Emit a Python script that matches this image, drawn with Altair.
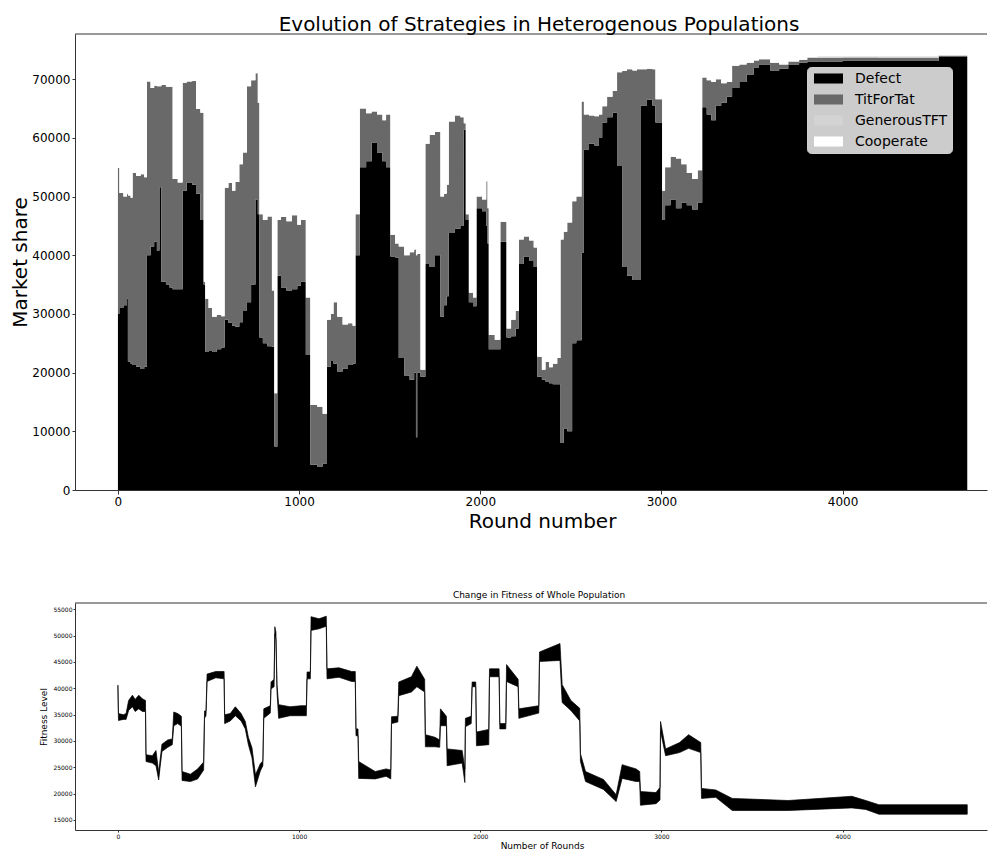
import altair as alt
import pandas as pd

# ---------------- data: stacked strategy shares (top panel) ----------------
TOTAL_POPULATION = 74000
strategies = ["Defect", "TitForTat", "GenerousTFT", "Cooperate"]
strategy_colors = ["#000000", "#696969", "#d3d3d3", "#ffffff"]

rounds_top = [0, 8, 30, 50, 55, 70, 81, 100, 125, 145, 160, 180, 200, 215, 229, 240, 265, 285,
              302, 330, 357, 380, 410, 431, 455, 473, 482, 500, 520, 545, 570, 589, 610, 630,
              648, 670, 690, 712, 735, 759, 772, 781, 800, 825, 850, 863, 880, 900, 930, 960,
              990, 1010, 1037, 1062, 1100, 1130, 1154, 1175, 1190, 1210, 1240, 1270, 1295, 1311,
              1335, 1370, 1400, 1430, 1460, 1480, 1504, 1530, 1550, 1580, 1610, 1635, 1645, 1652,
              1670, 1697, 1720, 1750, 1780, 1800, 1815, 1826, 1860, 1890, 1909, 1920, 1937, 1960,
              1979, 2010, 2033, 2040, 2047, 2080, 2111, 2145, 2170, 2195, 2213, 2240, 2270, 2295,
              2314, 2340, 2360, 2380, 2400, 2425, 2443, 2460, 2480, 2507, 2530, 2559, 2572, 2600,
              2630, 2655, 2673, 2700, 2730, 2755, 2783, 2810, 2840, 2865, 2884, 2920, 2950, 2967,
              3004, 3020, 3050, 3080, 3110, 3140, 3170, 3200, 3225, 3250, 3275, 3300, 3330, 3360,
              3390, 3430, 3470, 3510, 3538, 3600, 3650, 3700, 3760, 3805, 3860, 4000, 4200, 4530,
              4688]
defect = [30000, 31000, 31500, 32600, 21900, 21500, 21300, 21000, 20600, 21000, 40000, 41500,
          42300, 40800, 51600, 35500, 35000, 34500, 34200, 34200, 51000, 52400, 52000, 50500,
          46000, 35000, 23500, 23700, 23500, 24000, 24300, 29000, 28500, 28000, 27800, 28600,
          30500, 32000, 35000, 49500, 47000, 26000, 25000, 24500, 24400, 7400, 36500, 34500,
          34000, 34200, 34800, 35500, 23000, 4300, 4000, 4500, 21000, 22000, 21500, 20200, 20700,
          21300, 21500, 40000, 55000, 56000, 59200, 57500, 56000, 55000, 39800, 39600, 22500,
          19500, 18800, 20000, 9000, 20000, 19300, 38500, 38000, 40000, 29500, 31500, 33000,
          43800, 44500, 45000, 61400, 46000, 32000, 31300, 48000, 47500, 45000, 42000, 24000,
          24000, 42300, 26000, 26200, 27500, 38500, 39800, 39000, 38000, 19300, 18800, 18500,
          18200, 18000, 18000, 8000, 10500, 10000, 25000, 25500, 40400, 58000, 59000, 58700,
          60000, 62600, 63500, 64300, 55200, 38000, 36500, 35800, 35800, 65500, 66500, 65500,
          62600, 46000, 48500, 49500, 48000, 49000, 48500, 47800, 49000, 65200, 64000, 63000,
          65500, 66000, 67000, 68500, 69500, 70800, 72000, 72500, 71500, 71800, 72500, 72800,
          73000, 73000, 73200, 73100, 73800, 73800]
titfortat = [24900, 19600, 18500, 17900, 28300, 28300, 32700, 32500, 33200, 32300, 29600, 27000,
             26600, 28000, 17200, 33500, 33700, 34200, 18800, 18200, 18400, 17200, 17700, 14400,
             18300, 500, 9100, 7300, 6000, 5800, 5300, 22500, 23800, 23000, 24700, 26900, 27000,
             36800, 34800, 21500, 19000, 21000, 21000, 22100, 9600, 9100, 9500, 12000, 11800,
             12600, 10400, 10500, 9800, 10200, 10200, 8500, 8000, 8000, 10500, 9300, 7500, 7100,
             6500, 7000, 10000, 8200, 5300, 6500, 7000, 9000, 3700, 2400, 19000, 20500, 21700,
             21000, 31000, 20200, 1200, 20500, 22500, 21000, 20500, 19000, 19000, 19000, 19300, 18500,
             1100, 1000, 1600, 1500, 2000, 2000, 7600, 6000, 2400, 1600, 3400, 1500, 2800, 3000,
             4200, 3400, 3500, 3300, 3400, 1700, 3300, 2700, 3500, 4500, 34700, 33500, 35600,
             24200, 24500, 25800, 6000, 4800, 5000, 4000, 2800, 3500, 3700, 16000, 33400, 35200,
             35700, 35900, 6200, 5300, 6200, 4000, 5000, 6500, 7300, 8500, 6500, 5500, 5200, 5500,
             5100, 5800, 6500, 4500, 3300, 2500, 3800, 3000, 2000, 1200, 900, 1300, 700, 500, 500,
             700, 600, 500, 500, 200, 200]
generous = [0] * 158 + [300, 200, 300, 0, 0]

# ---------------- data: fitness of whole population (bottom panel) ----------------
rounds_fit = [0, 3, 30, 45, 59, 80, 95, 115, 135, 152, 155, 190, 210, 225, 232, 243, 275, 300,
              308, 330, 350, 354, 400, 440, 473, 478, 486, 492, 540, 586, 589, 620, 648, 680, 703,
              720, 740, 759, 786, 800, 805, 841, 845, 862, 866, 872, 878, 887, 950, 1010, 1040,
              1044, 1062, 1066, 1110, 1150, 1154, 1220, 1290, 1310, 1314, 1325, 1329, 1420, 1480,
              1506, 1510, 1545, 1550, 1620, 1650, 1693, 1697, 1750, 1776, 1780, 1813, 1817, 1900,
              1915, 1918, 1950, 1955, 1975, 1979, 2047, 2051, 2104, 2108, 2141, 2145, 2209, 2213,
              2323, 2327, 2440, 2452, 2500, 2549, 2553, 2581, 2680, 2750, 2783, 2860, 2880, 2884,
              2970, 2992, 2995, 3023, 3100, 3150, 3217, 3221, 3300, 3391, 3700, 4051, 4128, 4200,
              4688]
fitness_low = [39800, 33900, 34100, 34100, 35800, 36500, 35600, 36100, 35600, 35600, 26100, 25800,
               25300, 22600, 24800, 28000, 28800, 29300, 32900, 33300, 32800, 22500, 22300, 22800,
               24500, 34300, 34800, 41300, 42000, 41800, 33300, 33800, 34800, 33800, 32300, 29300,
               26800, 21300, 24300, 25300, 34300, 35300, 39900, 40300, 50300, 49300, 39300, 34300,
               34800, 34800, 34800, 41800, 41800, 51000, 51300, 51800, 41800, 42100, 41300, 41300,
               31000, 31000, 22900, 22800, 23300, 22800, 33300, 33600, 38600, 39300, 40300, 39300,
               28900, 28900, 28800, 32900, 32900, 25300, 25800, 22100, 32700, 33300, 40300, 40300,
               29100, 29300, 42200, 42200, 32300, 32300, 41300, 40300, 34300, 35300, 45100, 45300,
               37300, 35800, 33800, 26100, 22300, 20800, 18500, 22900, 22300, 22300, 17800, 18100,
               18800, 31800, 27200, 27800, 28600, 27800, 19100, 19300, 16800, 16800, 17300, 17000,
               16100, 16100]
fitness_high = [40600, 35200, 35000, 35200, 37700, 38700, 37900, 38700, 38000, 37700, 27400, 27200,
                28200, 24000, 26200, 29400, 30200, 30400, 35500, 35200, 34700, 24200, 23700, 24700,
                26000, 35700, 35700, 42700, 43200, 43200, 35000, 35200, 36500, 35200, 33700, 30700,
                28700, 23600, 25700, 26200, 36100, 36700, 41200, 41700, 51700, 50700, 40700, 36900,
                36500, 36700, 36700, 43100, 43100, 53600, 53200, 53700, 43700, 43900, 43200, 43200,
                32300, 32300, 26100, 24200, 24700, 24500, 34600, 34700, 41200, 42200, 44200, 41700,
                31200, 30700, 30200, 36100, 34700, 28500, 28200, 24700, 34300, 34700, 41200, 41200,
                31700, 32200, 43700, 43700, 33300, 33300, 44500, 41700, 36100, 36700, 46900, 48500,
                40700, 37700, 36200, 27600, 24200, 22700, 19800, 25500, 24700, 24200, 20400, 20200,
                21200, 33700, 28500, 29700, 31200, 29700, 21000, 20700, 19100, 18700, 19500, 18700,
                17900, 17900]

# ---------------- tables ----------------
rows = []
for i, r in enumerate(rounds_top):
    parts = [defect[i], titfortat[i], generous[i],
             TOTAL_POPULATION - defect[i] - titfortat[i] - generous[i]]
    for k, s in enumerate(strategies):
        rows.append({"round": r, "strategy": s, "order": k, "share": parts[k]})
share_df = pd.DataFrame(rows)
fit_df = pd.DataFrame({"round": rounds_fit, "low": fitness_low, "high": fitness_high})

FONT = "DejaVu Sans"
X_DOMAIN = [-237, 4797]
PLOT_W = 912
AXIS_COLOR = "#333333"
TITLE_CENTER = 467

x_top = alt.X("round:Q",
              scale=alt.Scale(domain=X_DOMAIN, nice=False, zero=False),
              axis=alt.Axis(values=[0, 1000, 2000, 3000, 4000], format="d", grid=False,
                            labelFontSize=12, tickSize=4, labelPadding=2,
                            title="Round number", titleFontSize=20, titleFontWeight="normal",
                            titlePadding=4, titleX=TITLE_CENTER,
                            domainColor=AXIS_COLOR, tickColor=AXIS_COLOR, labelColor="black"))
y_top = alt.Y("share:Q", stack="zero",
              scale=alt.Scale(domain=[0, 77700], nice=False, zero=True),
              axis=alt.Axis(values=[0, 10000, 20000, 30000, 40000, 50000, 60000, 70000],
                            format="d", grid=False, labelFontSize=12, tickSize=3,
                            labelPadding=2, title="Market share", titleFontSize=20,
                            titleFontWeight="normal", titlePadding=1,
                            domainColor=AXIS_COLOR, tickColor=AXIS_COLOR, labelColor="black"))

legend = alt.Legend(title=None, orient="none", legendX=732, legendY=33,
                    fillColor="rgba(255,255,255,0.8)", strokeColor="#d0d0d0",
                    cornerRadius=4, padding=4, rowPadding=6,
                    labelFontSize=14, labelColor="black", labelOffset=19,
                    symbolType="M-1.93,-0.67H1.93V0.67H-1.93Z", symbolSize=225,
                    symbolOffset=10, symbolStrokeWidth=0, symbolOpacity=1)

areas = alt.Chart(share_df).mark_area(interpolate="step-after").encode(
    x=x_top,
    y=y_top,
    color=alt.Color("strategy:N",
                    scale=alt.Scale(domain=strategies, range=strategy_colors),
                    legend=legend),
    order=alt.Order("order:Q"),
)
top_spine = alt.Chart(alt.Data(values=[{}])).mark_rule(color=AXIS_COLOR, strokeWidth=1).encode(
    y=alt.value(0))

top = alt.layer(areas, top_spine).properties(
    width=PLOT_W, height=456,
    title=alt.TitleParams("Evolution of Strategies in Heterogenous Populations",
                          fontSize=20, fontWeight="normal", font=FONT, anchor="middle",
                          dx=8, offset=-1, color="black"),
)

x_bot = alt.X("round:Q",
              scale=alt.Scale(domain=X_DOMAIN, nice=False, zero=False),
              axis=alt.Axis(values=[0, 1000, 2000, 3000, 4000], format="d", grid=False,
                            labelFontSize=6, tickSize=2, labelPadding=1,
                            title="Number of Rounds", titleFontSize=9, titleFontWeight="normal",
                            titlePadding=2, titleX=TITLE_CENTER,
                            domainColor=AXIS_COLOR, tickColor=AXIS_COLOR, labelColor="black"))
y_bot = alt.Y("low:Q",
              scale=alt.Scale(domain=[13100, 56200], nice=False, zero=False),
              axis=alt.Axis(values=[15000, 20000, 25000, 30000, 35000, 40000, 45000, 50000, 55000],
                            format="d", grid=False, labelFontSize=6, tickSize=2, labelPadding=1,
                            title="Fitness Level", titleFontSize=9, titleFontWeight="normal",
                            titlePadding=4,
                            domainColor=AXIS_COLOR, tickColor=AXIS_COLOR, labelColor="black"))

fit_band = alt.Chart(fit_df).mark_area(color="black", stroke="black", strokeWidth=0.7,
                                       interpolate="linear").encode(
    x=x_bot, y=y_bot, y2="high:Q")
bot_spine = alt.Chart(alt.Data(values=[{}])).mark_rule(color=AXIS_COLOR, strokeWidth=1).encode(
    y=alt.value(0))

bottom = alt.layer(fit_band, bot_spine).properties(
    width=PLOT_W, height=227,
    title=alt.TitleParams("Change in Fitness of Whole Population",
                          fontSize=9, fontWeight="normal", font=FONT, anchor="middle",
                          dx=8, offset=3, color="black"),
)

chart = alt.vconcat(top, bottom, spacing=59).properties(
    padding={"left": 2, "top": 6, "right": 0, "bottom": 0}
).configure(font=FONT).configure_view(stroke=None).configure_axis(
    labelFont=FONT, titleFont=FONT)

chart.save("out.html", embed_options={"renderer": "svg", "actions": False})
